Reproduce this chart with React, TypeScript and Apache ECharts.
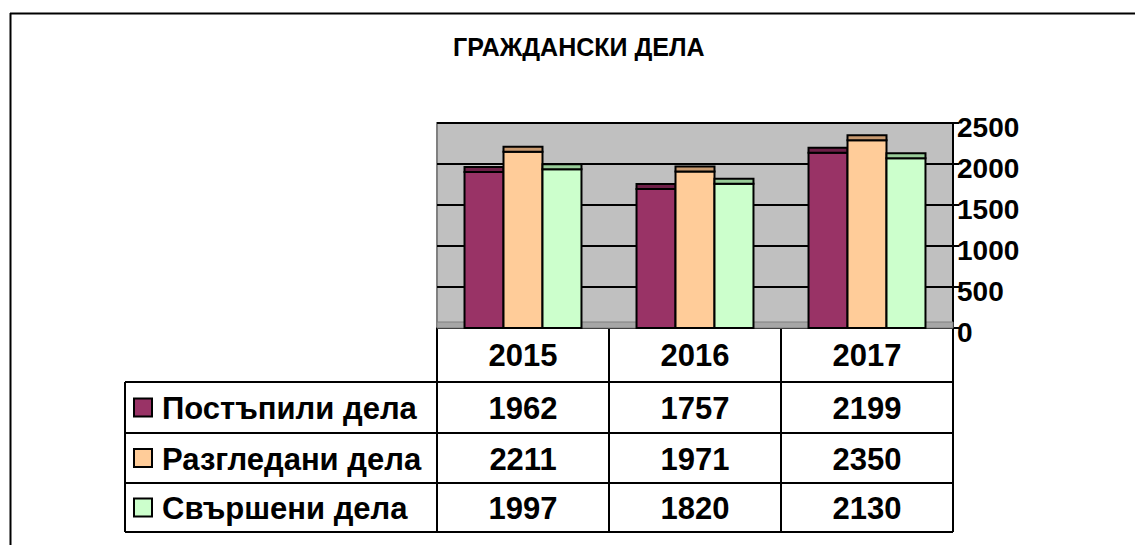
import React, { useEffect, useRef } from "react";
import * as echarts from "echarts";

const title = "ГРАЖДАНСКИ ДЕЛА";
const years = ["2015", "2016", "2017"];
const seriesNames = ["Постъпили дела", "Разгледани дела", "Свършени дела"];
const postapili = [1962, 1757, 2199];
const razgledani = [2211, 1971, 2350];
const svarsheni = [1997, 1820, 2130];
const yTicks = [0, 500, 1000, 1500, 2000, 2500];

const faceColors = ["#993366", "#FFCC99", "#CCFFCC"];
const capColors = ["#6E2048", "#C89A70", "#99CC99"];
const FONT = "'Liberation Sans', Arial, Helvetica, sans-serif";

// layout (pixels)
const W = 1135;
const H = 545;
const GL = 437;
const GR = 953;
const GT = 123;
const GB = 328;
const rowLines = [382, 433, 483, 532];
const legendLeft = 125;
const TABLE_FS = 31;

export default function App() {
  const ref = useRef<HTMLDivElement>(null);
  useEffect(() => {
    if (!ref.current) return;
    const chart = echarts.init(ref.current, undefined, { renderer: "svg" });
    const allSeries = [postapili, razgledani, svarsheni];
    const nSeries = allSeries.length;
    const colW = (GR - GL) / years.length;

    const graphics: any[] = [];
    // outer frame (clipped at right/bottom)
    graphics.push({ type: "line", shape: { x1: 10, y1: 13.5, x2: W, y2: 13.5 }, style: { stroke: "#000", lineWidth: 2 }, z: 10 });
    graphics.push({ type: "line", shape: { x1: 10.5, y1: 13, x2: 10.5, y2: H }, style: { stroke: "#000", lineWidth: 2 }, z: 10 });
    // floor strip
    graphics.push({ type: "rect", shape: { x: GL, y: GB - 6, width: GR - GL, height: 6 }, style: { fill: "#A6A6A6", stroke: "#808080", lineWidth: 1 }, z: 1 });
    // table horizontal lines
    rowLines.forEach((y) => {
      graphics.push({ type: "line", shape: { x1: legendLeft, y1: y, x2: GR, y2: y }, style: { stroke: "#000", lineWidth: 2 }, z: 10 });
    });
    // table vertical lines (below header row)
    for (let c = 0; c <= years.length; c++) {
      const x = GL + c * colW;
      graphics.push({ type: "line", shape: { x1: x, y1: rowLines[0], x2: x, y2: rowLines[rowLines.length - 1] }, style: { stroke: "#000", lineWidth: 2 }, z: 10 });
    }
    graphics.push({ type: "line", shape: { x1: legendLeft, y1: rowLines[0], x2: legendLeft, y2: rowLines[rowLines.length - 1] }, style: { stroke: "#000", lineWidth: 2 }, z: 10 });
    // rows
    allSeries.forEach((vals, r) => {
      const cy = (rowLines[r] + rowLines[r + 1]) / 2;
      graphics.push({ type: "rect", shape: { x: 134, y: cy - 9, width: 18, height: 18 }, style: { fill: faceColors[r], stroke: "#000", lineWidth: 2 }, z: 10 });
      graphics.push({ type: "text", x: 162, y: cy + 1, style: { text: seriesNames[r], font: `bold ${TABLE_FS}px ${FONT}`, fill: "#000", textVerticalAlign: "middle", textAlign: "left" }, z: 10 });
      vals.forEach((v, c) => {
        graphics.push({ type: "text", x: GL + (c + 0.5) * colW, y: cy + 1, style: { text: String(v), font: `bold ${TABLE_FS}px ${FONT}`, fill: "#000", textVerticalAlign: "middle", textAlign: "center" }, z: 10 });
      });
    });

    const series = allSeries.map((vals, i) => ({
      type: "custom",
      name: seriesNames[i],
      data: vals.map((v, c) => [c, v]),
      encode: { x: 0, y: 1 },
      z: 3,
      renderItem: (params: any, api: any) => {
        const cat = api.value(0);
        const val = api.value(1);
        const base = api.coord([cat, 0]);
        const top = api.coord([cat, val]);
        const catW = api.size([1, 0])[0];
        const bw = (catW * 0.68) / nSeries;
        const x = base[0] - (nSeries / 2) * bw + i * bw;
        const cap = 5;
        return {
          type: "group",
          children: [
            { type: "rect", shape: { x, y: top[1] + cap, width: bw, height: base[1] - top[1] - cap }, style: { fill: faceColors[i], stroke: "#000", lineWidth: 2 } },
            { type: "rect", shape: { x, y: top[1], width: bw, height: cap }, style: { fill: capColors[i], stroke: "#000", lineWidth: 2 } },
          ],
        };
      },
    }));

    chart.setOption({
      animation: false,
      title: {
        text: title,
        left: 453,
        top: 34,
        padding: 0,
        textStyle: { fontSize: 25, fontWeight: "bold", color: "#000", fontFamily: FONT },
      },
      grid: {
        left: GL,
        right: W - GR,
        top: GT,
        bottom: H - GB,
        show: true,
        backgroundColor: "#C0C0C0",
        borderColor: "#808080",
        borderWidth: 2,
      },
      xAxis: {
        type: "category",
        data: years,
        axisLine: { show: true, lineStyle: { color: "#000", width: 2 } },
        axisTick: { show: true, length: rowLines[0] - GB, alignWithLabel: false, interval: 0, lineStyle: { color: "#000", width: 2 } },
        axisLabel: { show: true, margin: 12, fontSize: TABLE_FS, fontWeight: "bold", color: "#000", fontFamily: FONT, interval: 0 },
        splitLine: { show: false },
      },
      yAxis: {
        type: "value",
        position: "right",
        min: yTicks[0],
        max: yTicks[yTicks.length - 1],
        interval: yTicks[1] - yTicks[0],
        axisLine: { show: true, lineStyle: { color: "#000", width: 2 } },
        axisTick: { show: true, inside: false, length: 6, lineStyle: { color: "#000", width: 2 } },
        axisLabel: {
          margin: 4,
          fontSize: 28,
          fontWeight: "bold",
          color: "#000",
          fontFamily: FONT,
          verticalAlign: "top",
          lineHeight: 8,
          formatter: (v: number) => String(v),
        },
        splitLine: { show: true, lineStyle: { color: "#000", width: 2 } },
      },
      graphic: graphics,
      series,
    });
    return () => chart.dispose();
  }, []);
  return (
    <div
      ref={ref}
      style={{ position: "fixed", left: 0, top: 0, width: W, height: H, background: "#fff" }}
    />
  );
}
